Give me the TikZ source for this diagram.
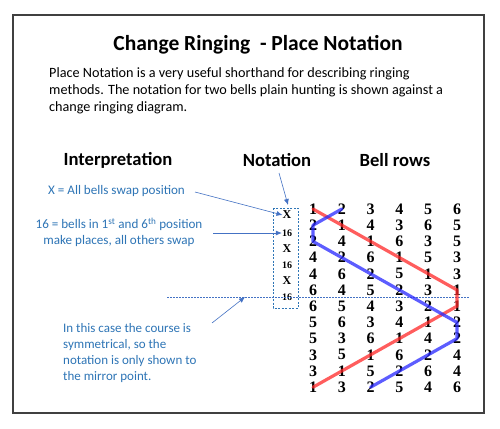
\documentclass[tikz,border=0pt]{standalone}
\usepackage{fontspec}
\setmainfont{Carlito}
\newfontfamily\bellfont{Liberation Serif}
\usetikzlibrary{arrows.meta}
\definecolor{txtblue}{RGB}{46,117,182}
\definecolor{arrblue}{RGB}{68,114,196}
\definecolor{huntred}{RGB}{255,40,40}
\definecolor{huntblue}{RGB}{40,40,255}
\tikzset{
  lbl/.style={inner sep=0pt, anchor=west, text=txtblue, font=\fontsize{13.1}{15.5}\selectfont},
  head/.style={inner sep=0pt, font=\fontsize{18.6}{22}\selectfont\bfseries},
  bell/.style={inner sep=0pt, font=\fontsize{16}{16}\selectfont\bellfont\bfseries},
  pn/.style={inner sep=0pt, font=\bellfont\bfseries},
  arr/.style={draw=arrblue, line width=0.6pt, -{Latex[length=6pt,width=5pt]}},
  hunt/.style={line width=3.2pt, opacity=0.75, line join=round, line cap=round}
}
\begin{document}
\begin{tikzpicture}[x=1pt,y=-1pt]
\useasboundingbox (0,0) rectangle (500,428);
\fill[white] (0,0) rectangle (500,428);
\draw[line width=1.2pt, draw=black!75] (13,15) rectangle (484,413);
\node[inner sep=0pt, font=\fontsize{21.5}{25}\selectfont\bfseries] (title) at (258,45) {Change Ringing\ \ - Place Notation};
\node[inner sep=0pt, anchor=north west, align=left, font=\fontsize{14.2}{17}\selectfont] (intro) at (49,67)
 {Place Notation is a very useful shorthand for describing ringing\\
  methods. The notation for two bells plain hunting is shown against a\\
  change ringing diagram.};
\node[head] (hint) at (118,160) {Interpretation};
\node[head] (hnot) at (277,160) {Notation};
\node[head] (hbell) at (395,160) {Bell rows};
\node[lbl] (lx) at (48,191) {X = All bells swap position};
\node[lbl, align=center, anchor=center] (l16) at (119,232) {16 = bells in 1\textsuperscript{st} and 6\textsuperscript{th} position\\make places, all others swap};
\node[lbl, align=left, anchor=north west, font=\fontsize{13}{16}\selectfont] (lsym) at (63,323)
 {In this case the course is\\symmetrical, so the\\notation is only shown to\\the mirror point.};
% notation box
\draw[draw=txtblue, line width=0.9pt, dash pattern=on 2pt off 1.5pt] (273,208) rectangle (298,308);
\node[pn, font=\fontsize{12}{12}\selectfont\bellfont\bfseries] (n1) at (287,215) {X};
\node[pn, font=\fontsize{10}{10}\selectfont\bellfont\bfseries] (n2) at (287,233) {16};
\node[pn, font=\fontsize{12}{12}\selectfont\bellfont\bfseries] (n3) at (287,249) {X};
\node[pn, font=\fontsize{10}{10}\selectfont\bellfont\bfseries] (n4) at (287,265) {16};
\node[pn, font=\fontsize{12}{12}\selectfont\bellfont\bfseries] (n5) at (287,281) {X};
\node[pn, font=\fontsize{10}{10}\selectfont\bellfont\bfseries] (n6) at (287,297) {16};
% mirror line
\coordinate (ml1) at (167,297);
\coordinate (ml2) at (470,297);
\draw[draw=arrblue, line width=0.6pt, dash pattern=on 1.5pt off 1.5pt] (ml1) -- (ml2);
% bell rows
\def\rows{{1,2,3,4,5,6},{2,1,4,3,6,5},{2,4,1,6,3,5},{4,2,6,1,5,3},{4,6,2,5,1,3},{6,4,5,2,3,1},{6,5,4,3,2,1},{5,6,3,4,1,2},{5,3,6,1,4,2},{3,5,1,6,2,4},{3,1,5,2,6,4},{1,3,2,5,4,6}}
\foreach \r [count=\i from 0] in \rows {
  \foreach \b [count=\j from 1] in \r {
    \node[bell] (b\i-\j) at ({313+(\j-1)*28.8},{209+\i*16.2}) {\b};
  }
}
\draw[hunt, draw=huntred] (b0-1.center) -- (b5-6.center) -- (b6-6.center) -- (b11-1.center);
\draw[hunt, draw=huntblue] (b0-2.center) -- (b1-1.center) -- (b2-1.center) -- (b7-6.center) -- (b8-6.center) -- (b11-3.center);
% arrows
\coordinate (ax) at (195,192);
\draw[arr] (ax) -- (n1.west);
\coordinate (a16) at (213,233);
\draw[arr] (a16) -- (n2.west);
\coordinate (an) at (279,173);
\draw[arr] (an) -- (288,205);
\coordinate (asym) at (212,323);
\draw[arr] (asym) -- (245,297);
\end{tikzpicture}
\end{document}
